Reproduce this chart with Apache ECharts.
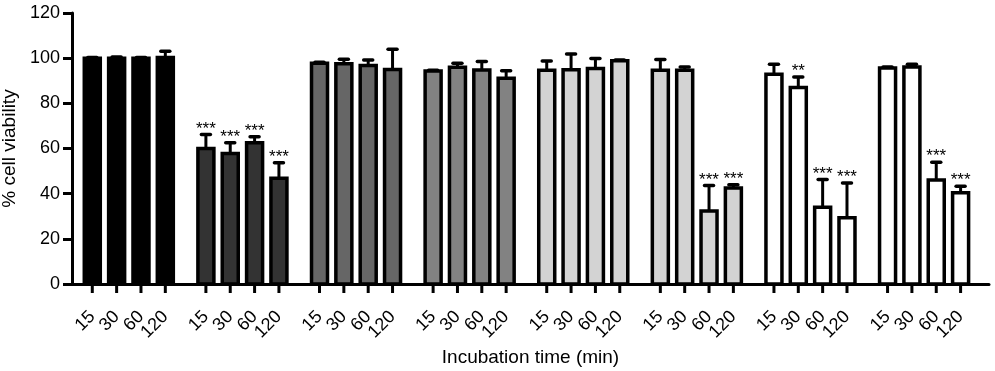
<!DOCTYPE html>
<html>
<head>
<meta charset="utf-8">
<script src="https://cdn.jsdelivr.net/npm/echarts@6/dist/echarts.min.js"></script>
<style>html,body{margin:0;padding:0;background:#fff}#c{width:995px;height:371px}</style>
</head>
<body>
<div id="c"></div>
<script>
// ---- data ----
const timeLabels = ['15', '30', '60', '120'];
const yTicks = [0, 20, 40, 60, 80, 100, 120];
const means = [
  [100, 100, 100, 100.3],
  [60, 57.8, 62.6, 46.8],
  [97.8, 97.5, 96.7, 95],
  [94.3, 96, 94.8, 91.1],
  [94.6, 94.9, 95.4, 98.9],
  [94.6, 94.6, 32.3, 42.5],
  [92.9, 87, 34, 29.3],
  [95.7, 96.1, 46, 40.4]
];
const errors = [
  [0.3, 0.5, 0.3, 2.8],
  [6.2, 4.7, 2.6, 6.9],
  [0.4, 2, 2.5, 9],
  [0.4, 1.7, 3.7, 3.3],
  [4.1, 7, 4.5, 0.3],
  [4.8, 1.5, 11.3, 1.5],
  [4.4, 4.7, 12.3, 15.4],
  [0.4, 1.2, 7.9, 2.9]
];
const stars = [
  ['', '', '', ''],
  ['***', '***', '***', '***'],
  ['', '', '', ''],
  ['', '', '', ''],
  ['', '', '', ''],
  ['', '', '***', '***'],
  ['', '**', '***', '***'],
  ['', '', '***', '***']
];
// ---- styles ----
const groupColors = ['#000000', '#333333', '#666666', '#828282', '#d3d3d3', '#d3d3d3', '#ffffff', '#ffffff'];

// layout of slots on a fine category axis
const SLOTS = 113, OFFSET = 2, GROUP_STEP = 14, BAR_STEP = 3;
const BAR_W = 16;
const slotLabel = new Array(SLOTS).fill('');
const barData = [];
means.forEach((grp, g) => {
  grp.forEach((v, i) => {
    const idx = OFFSET + g * GROUP_STEP + i * BAR_STEP;
    slotLabel[idx] = timeLabels[i];
    barData.push([idx, v, v + errors[g][i], g, stars[g][i]]);
  });
});
const cats = slotLabel.map((_, k) => 'c' + k);
const showSlot = (k) => slotLabel[k] !== '' || k === 0 || k === SLOTS - 1;

const font = '"Liberation Sans", Arial, sans-serif';
const chart = echarts.init(document.getElementById('c'));
chart.setOption({
  animation: false,
  backgroundColor: '#fff',
  grid: { left: 72, right: 6, top: 13, bottom: 87, containLabel: false, outerBoundsMode: 'none' },
  xAxis: {
    type: 'category',
    data: cats,
    name: 'Incubation time (min)',
    nameLocation: 'middle',
    nameGap: 63,
    nameTextStyle: { fontFamily: font, fontSize: 19, color: '#000' },
    axisLine: { lineStyle: { color: '#000', width: 3 } },
    axisTick: { show: false },
    axisLabel: {
      interval: (k) => showSlot(k),
      formatter: (val, k) => slotLabel[k],
      showMinLabel: true, showMaxLabel: true, hideOverlap: false,
      rotate: 45, margin: 30, lineHeight: 12,
      fontFamily: font, fontSize: 18, color: '#000'
    }
  },
  yAxis: {
    type: 'value',
    min: yTicks[0], max: yTicks[yTicks.length - 1], interval: yTicks[1] - yTicks[0],
    name: '% cell viability',
    nameLocation: 'middle',
    nameGap: 46,
    nameTextStyle: { fontFamily: font, fontSize: 19, color: '#000' },
    axisLine: { show: true, lineStyle: { color: '#000', width: 3 } },
    axisTick: { show: true, length: 9, lineStyle: { color: '#000', width: 3 } },
    axisLabel: { fontFamily: font, fontSize: 18, color: '#000', margin: 12 },
    splitLine: { show: false }
  },
  series: [
    {
      type: 'custom',
      data: barData,
      z: 3,
      clip: false,
      encode: { x: 0, y: [1, 2] },
      renderItem: (params, api) => {
        const x = api.value(0);
        const zero = api.coord([x, 0]);
        const base = api.coord([x, api.value(1)]);
        const top = api.coord([x, api.value(2)]);
        const d = barData[params.dataIndex];
        const cx = zero[0];
        const children = [
          { type: 'line', z2: 1, shape: { x1: cx, y1: zero[1], x2: cx, y2: zero[1] + 9 }, style: { stroke: '#000', lineWidth: 3 } },
          { type: 'line', z2: 1, shape: { x1: cx, y1: base[1], x2: cx, y2: top[1] }, style: { stroke: '#000', lineWidth: 3 } },
          { type: 'line', z2: 1, shape: { x1: cx - 4.5, y1: top[1], x2: cx + 4.5, y2: top[1] }, style: { stroke: '#000', lineWidth: 3.5, lineCap: 'round' } },
          { type: 'rect', z2: 2, shape: { x: cx - BAR_W / 2, y: base[1], width: BAR_W, height: zero[1] - base[1] }, style: { fill: groupColors[d[3]], stroke: '#000', lineWidth: 3.5 } }
        ];
        if (d[4]) {
          children.push({ type: 'text', z2: 3, style: { text: d[4], x: cx, y: top[1] + 3, textAlign: 'center', textVerticalAlign: 'bottom', fontFamily: font, fontSize: 17, fill: '#000' } });
        }
        return { type: 'group', children };
      }
    }
  ]
});
</script>
</body>
</html>
